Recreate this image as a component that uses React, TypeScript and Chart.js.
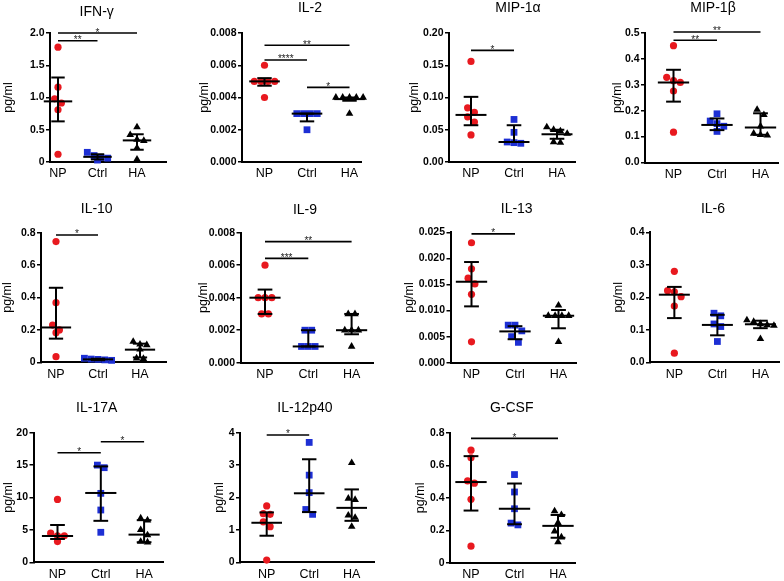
import React, { useEffect, useRef } from "react";
import { Chart, registerables } from "chart.js";
Chart.register(...registerables);

Chart.defaults.font.family = "'Liberation Sans', Arial, sans-serif";
Chart.defaults.color = "#000";

const groups = ["NP", "Ctrl", "HA"];

// IFN-γ
const ifnNP = [1.78, 1.16, 0.98, 0.915, 0.81, 0.12];
const ifnCtrl = [0.15, 0.1, 0.07, 0.06, 0.03];
const ifnHA = [0.54, 0.42, 0.35, 0.33, 0.22, 0.04];
const ifnCenter = [0.94, 0.08, 0.335];
const ifnLow = [0.63, 0.04, 0.19];
const ifnHigh = [1.31, 0.12, 0.43];
const ifnTicks = ["0", "0.5", "1.0", "1.5", "2.0"];
const ifnSig: [number, number, number, string][] = [[0, 2, 2.0, "*"], [0, 1, 1.88, "**"]];

// IL-2
const il2NP = [0.006, 0.005, 0.005, 0.005, 0.005, 0.004];
const il2Ctrl = [0.003, 0.003, 0.003, 0.003, 0.002];
const il2HA = [0.004, 0.004, 0.004, 0.004, 0.004, 0.003];
const il2Center = [0.005, 0.003, 0.0039];
const il2Low = [0.00473, 0.00252, 0.0038];
const il2High = [0.0052, 0.003, 0.004];
const il2Ticks = ["0.000", "0.002", "0.004", "0.006", "0.008"];
const il2Sig: [number, number, number, string][] = [[0, 2, 0.00724, "**"], [0, 1, 0.00633, "****"], [1, 2, 0.00463, "*"]];

// MIP-1α
const mip1aNP = [0.156, 0.084, 0.077, 0.07, 0.062, 0.042];
const mip1aCtrl = [0.066, 0.046, 0.031, 0.03, 0.029];
const mip1aHA = [0.054, 0.05, 0.048, 0.044, 0.031, 0.03];
const mip1aCenter = [0.073, 0.031, 0.043];
const mip1aLow = [0.057, 0.031, 0.036];
const mip1aHigh = [0.101, 0.057, 0.05];
const mip1aTicks = ["0.00", "0.05", "0.10", "0.15", "0.20"];
const mip1aSig: [number, number, number, string][] = [[0, 1, 0.173, "*"]];

// MIP-1β
const mip1bNP = [0.451, 0.329, 0.316, 0.309, 0.276, 0.117];
const mip1bCtrl = [0.188, 0.16, 0.15, 0.14, 0.12];
const mip1bHA = [0.204, 0.184, 0.14, 0.112, 0.107, 0.105];
const mip1bCenter = [0.309, 0.145, 0.135];
const mip1bLow = [0.235, 0.125, 0.107];
const mip1bHigh = [0.358, 0.17, 0.19];
const mip1bTicks = ["0.0", "0.1", "0.2", "0.3", "0.4", "0.5"];
const mip1bSig: [number, number, number, string][] = [[0, 2, 0.504, "**"], [0, 1, 0.472, "**"]];

// IL-10
const il10NP = [0.745, 0.368, 0.23, 0.2, 0.183, 0.035];
const il10Ctrl = [0.025, 0.02, 0.018, 0.015, 0.012];
const il10HA = [0.128, 0.111, 0.107, 0.08, 0.025, 0.022];
const il10Center = [0.215, 0.018, 0.078];
const il10Low = [0.146, 0.013, 0.03];
const il10High = [0.46, 0.022, 0.115];
const il10Ticks = ["0", "0.2", "0.4", "0.6", "0.8"];
const il10Sig: [number, number, number, string][] = [[0, 1, 0.786, "*"]];

// IL-9
const il9NP = [0.006, 0.004, 0.004, 0.004, 0.003, 0.003];
const il9Ctrl = [0.002, 0.002, 0.001, 0.001, 0.001];
const il9HA = [0.003, 0.003, 0.002, 0.002, 0.002, 0.001];
const il9Center = [0.004, 0.001, 0.002];
const il9Low = [0.003, 0.001, 0.00175];
const il9High = [0.0045, 0.002, 0.003];
const il9Ticks = ["0.000", "0.002", "0.004", "0.006", "0.008"];
const il9Sig: [number, number, number, string][] = [[0, 2, 0.00745, "**"], [0, 1, 0.00642, "***"]];

// IL-13
const il13NP = [0.023, 0.018, 0.0162, 0.0151, 0.0131, 0.004];
const il13Ctrl = [0.0072, 0.0072, 0.0061, 0.005, 0.0039];
const il13HA = [0.011, 0.009, 0.009, 0.009, 0.009, 0.004];
const il13Center = [0.0155, 0.006, 0.009];
const il13Low = [0.0108, 0.0045, 0.0066];
const il13High = [0.0193, 0.007, 0.0101];
const il13Ticks = ["0.000", "0.005", "0.010", "0.015", "0.020", "0.025"];
const il13Sig: [number, number, number, string][] = [[0, 1, 0.0247, "*"]];

// IL-6
const il6NP = [0.28, 0.2205, 0.217, 0.202, 0.173, 0.028];
const il6Ctrl = [0.151, 0.143, 0.118, 0.11, 0.064];
const il6HA = [0.13, 0.125, 0.118, 0.115, 0.113, 0.072];
const il6Center = [0.208, 0.115, 0.117];
const il6Low = [0.136, 0.083, 0.105];
const il6High = [0.232, 0.146, 0.128];
const il6Ticks = ["0.0", "0.1", "0.2", "0.3", "0.4"];
const il6Sig: [number, number, number, string][] = [];

// IL-17A
const il17NP = [9.7, 4.5, 4.1, 4.1, 3.2];
const il17Ctrl = [15.0, 14.6, 10.64, 8.07, 4.63];
const il17HA = [6.8, 6.5, 5.0, 4.2, 3.2, 3.1];
const il17Center = [4.06, 10.7, 4.27];
const il17Low = [3.6, 6.4, 3.1];
const il17High = [5.76, 14.8, 6.5];
const il17Ticks = ["0", "5", "10", "15", "20"];
const il17Sig: [number, number, number, string][] = [[0, 1, 16.9, "*"], [1, 2, 18.6, "*"]];

// IL-12p40
const il12NP = [1.74, 1.5, 1.48, 1.25, 1.1, 0.07];
const il12Ctrl = [3.7, 2.69, 2.15, 1.63, 1.48];
const il12HA = [3.07, 1.97, 1.93, 1.45, 1.38, 1.1];
const il12Center = [1.22, 2.13, 1.68];
const il12Low = [0.82, 1.55, 1.28];
const il12High = [1.54, 3.18, 2.25];
const il12Ticks = ["0", "1", "2", "3", "4"];
const il12Sig: [number, number, number, string][] = [[0, 1, 3.93, "*"]];

// G-CSF
const gcsfNP = [0.693, 0.646, 0.504, 0.49, 0.391, 0.103];
const gcsfCtrl = [0.543, 0.436, 0.333, 0.245, 0.234];
const gcsfHA = [0.319, 0.296, 0.247, 0.195, 0.158, 0.128];
const gcsfCenter = [0.497, 0.333, 0.228];
const gcsfLow = [0.322, 0.238, 0.155];
const gcsfHigh = [0.656, 0.488, 0.295];
const gcsfTicks = ["0", "0.2", "0.4", "0.6", "0.8"];
const gcsfSig: [number, number, number, string][] = [[0, 2, 0.765, "*"]];

const panels = [
  { title: "IFN-γ", pts: [ifnNP, ifnCtrl, ifnHA], center: ifnCenter, low: ifnLow, high: ifnHigh, ticks: ifnTicks, sig: ifnSig },
  { title: "IL-2", pts: [il2NP, il2Ctrl, il2HA], center: il2Center, low: il2Low, high: il2High, ticks: il2Ticks, sig: il2Sig },
  { title: "MIP-1α", pts: [mip1aNP, mip1aCtrl, mip1aHA], center: mip1aCenter, low: mip1aLow, high: mip1aHigh, ticks: mip1aTicks, sig: mip1aSig },
  { title: "MIP-1β", pts: [mip1bNP, mip1bCtrl, mip1bHA], center: mip1bCenter, low: mip1bLow, high: mip1bHigh, ticks: mip1bTicks, sig: mip1bSig },
  { title: "IL-10", pts: [il10NP, il10Ctrl, il10HA], center: il10Center, low: il10Low, high: il10High, ticks: il10Ticks, sig: il10Sig },
  { title: "IL-9", pts: [il9NP, il9Ctrl, il9HA], center: il9Center, low: il9Low, high: il9High, ticks: il9Ticks, sig: il9Sig },
  { title: "IL-13", pts: [il13NP, il13Ctrl, il13HA], center: il13Center, low: il13Low, high: il13High, ticks: il13Ticks, sig: il13Sig },
  { title: "IL-6", pts: [il6NP, il6Ctrl, il6HA], center: il6Center, low: il6Low, high: il6High, ticks: il6Ticks, sig: il6Sig },
  { title: "IL-17A", pts: [il17NP, il17Ctrl, il17HA], center: il17Center, low: il17Low, high: il17High, ticks: il17Ticks, sig: il17Sig },
  { title: "IL-12p40", pts: [il12NP, il12Ctrl, il12HA], center: il12Center, low: il12Low, high: il12High, ticks: il12Ticks, sig: il12Sig },
  { title: "G-CSF", pts: [gcsfNP, gcsfCtrl, gcsfHA], center: gcsfCenter, low: gcsfLow, high: gcsfHigh, ticks: gcsfTicks, sig: gcsfSig },
];

// Layout (page pixels)
const colX = [0, 195, 390, 585];
const colW = [195, 195, 195, 199];
const rowY = [0, 188, 383];
const rowH = [188, 195, 198];
const XH = 20;
const layouts = [
  { col: 0, row: 0, axisX: 50, top: 33, bottom: 162, xEnd: 166, p0: 58, s: 39.5, titleX: 96.7, titleY: 12.5, yTitleX: 8.5 },
  { col: 1, row: 0, axisX: 242, top: 33, bottom: 162, xEnd: 361, p0: 264.5, s: 42.5, titleX: 310, titleY: 8.5, yTitleX: 205 },
  { col: 2, row: 0, axisX: 449, top: 33, bottom: 162, xEnd: 575, p0: 471, s: 43, titleX: 518, titleY: 8.5, yTitleX: 415 },
  { col: 3, row: 0, axisX: 645, top: 33, bottom: 162.5, xEnd: 778, p0: 673.5, s: 43.5, titleX: 713, titleY: 8.5, yTitleX: 618 },
  { col: 0, row: 1, axisX: 41, top: 232.7, bottom: 362.3, xEnd: 166, p0: 56, s: 42, titleX: 96.7, titleY: 209, yTitleX: 7.5 },
  { col: 1, row: 1, axisX: 240.5, top: 232.7, bottom: 362.7, xEnd: 373, p0: 265, s: 43.3, titleX: 305, titleY: 210, yTitleX: 203.3 },
  { col: 2, row: 1, axisX: 450.5, top: 232.3, bottom: 362.7, xEnd: 576, p0: 471.5, s: 43.5, titleX: 516.7, titleY: 209, yTitleX: 409.5 },
  { col: 3, row: 1, axisX: 650, top: 232.3, bottom: 362.3, xEnd: 780, p0: 674.5, s: 43.3, titleX: 713, titleY: 209, yTitleX: 618.5 },
  { col: 0, row: 2, axisX: 33.5, top: 432.7, bottom: 562.3, xEnd: 163, p0: 57.5, s: 43.3, titleX: 96.7, titleY: 408.5, yTitleX: 8.5 },
  { col: 1, row: 2, axisX: 240, top: 432.7, bottom: 562.3, xEnd: 374, p0: 266.7, s: 42.5, titleX: 305, titleY: 408.5, yTitleX: 220 },
  { col: 2, row: 2, axisX: 450, top: 432.7, bottom: 563, xEnd: 575, p0: 471, s: 43.5, titleX: 511.7, titleY: 408.5, yTitleX: 420.5 },
];

const colors = ["#e8191f", "#1d2fd4", "#000000"];
const shapes = ["circle", "rect", "triangle"];
const radii = [3.6, 4.8, 4.4];
const MARK = 6.8;
const FONT = "'Liberation Sans', Arial, sans-serif";

function swarm(vals: number[], pxPerUnit: number, d: number): number[] {
  const idx = vals.map((_, i) => i).sort((a, b) => vals[b] - vals[a]);
  const out = new Array(vals.length).fill(0);
  let row: number[] = [];
  let start = 0;
  const flush = () => row.forEach((k, j) => (out[k] = (j - (row.length - 1) / 2) * d));
  idx.forEach((k) => {
    if (row.length && (start - vals[k]) * pxPerUnit < d) row.push(k);
    else {
      flush();
      row = [k];
      start = vals[k];
    }
  });
  flush();
  return out;
}

function Panel({ p, L }: { p: any; L: any }) {
  const ref = useRef<HTMLCanvasElement>(null);
  const bx = colX[L.col], by = rowY[L.row], bw = colW[L.col], bh = rowH[L.row];
  useEffect(() => {
    const yMax = Number(p.ticks[p.ticks.length - 1]);
    const pxPerUnit = (L.bottom - L.top) / yMax;
    const xmin = -(L.p0 - L.axisX) / L.s;
    const xmax = (L.xEnd - L.p0) / L.s;
    const datasets = p.pts.map((vals: number[], g: number) => {
      const off = swarm(vals, pxPerUnit, MARK);
      return {
        label: groups[g],
        data: vals.map((v, i) => ({ x: g + off[i] / L.s, y: v })),
        pointStyle: shapes[g],
        pointRadius: radii[g],
        pointBackgroundColor: colors[g],
        pointBorderColor: colors[g],
        pointBorderWidth: 0,
        showLine: false,
        clip: false,
      };
    });
    const deco = {
      id: "deco",
      afterDatasetsDraw(chart: any) {
        const { ctx } = chart;
        const xs = chart.scales.x, ys = chart.scales.y;
        const sp = xs.getPixelForValue(1) - xs.getPixelForValue(0);
        ctx.save();
        ctx.strokeStyle = "#000";
        ctx.lineWidth = 2;
        const line = (x1: number, y1: number, x2: number, y2: number) => {
          ctx.beginPath();
          ctx.moveTo(x1, y1);
          ctx.lineTo(x2, y2);
          ctx.stroke();
        };
        for (let g = 0; g < 3; g++) {
          const cx = xs.getPixelForValue(g);
          const yc = ys.getPixelForValue(p.center[g]);
          const yl = ys.getPixelForValue(p.low[g]);
          const yh = ys.getPixelForValue(p.high[g]);
          line(cx - 0.36 * sp, yc, cx + 0.36 * sp, yc);
          line(cx, yl, cx, yh);
          line(cx - 0.17 * sp, yl, cx + 0.17 * sp, yl);
          line(cx - 0.17 * sp, yh, cx + 0.17 * sp, yh);
        }
        ctx.restore();
      },
      afterDraw(chart: any) {
        const { ctx, chartArea } = chart;
        const xs = chart.scales.x, ys = chart.scales.y;
        ctx.save();
        ctx.strokeStyle = "#000";
        ctx.lineWidth = 1.6;
        ctx.fillStyle = "#222";
        ctx.font = `10px ${FONT}`;
        ctx.textAlign = "center";
        ctx.textBaseline = "alphabetic";
        p.sig.forEach(([a, b, v, t]: [number, number, number, string]) => {
          const x1 = xs.getPixelForValue(a), x2 = xs.getPixelForValue(b);
          const y = ys.getPixelForValue(v);
          ctx.beginPath();
          ctx.moveTo(x1, y);
          ctx.lineTo(x2, y);
          ctx.stroke();
          ctx.fillText(t, (x1 + x2) / 2, y + 2.5);
        });
        ctx.fillStyle = "#000";
        ctx.textBaseline = "middle";
        ctx.font = `12.5px ${FONT}`;
        groups.forEach((gname, g) => {
          ctx.fillText(gname, xs.getPixelForValue(g), chartArea.bottom + 12);
        });
        ctx.font = `14px ${FONT}`;
        ctx.fillText(p.title, L.titleX - bx, L.titleY - by);
        ctx.translate(L.yTitleX - bx, (L.top + L.bottom) / 2 - by);
        ctx.rotate(-Math.PI / 2);
        ctx.font = `12.5px ${FONT}`;
        ctx.fillText("pg/ml", 0, 0);
        ctx.restore();
      },
    };
    const chart = new Chart(ref.current as HTMLCanvasElement, {
      type: "scatter",
      data: { datasets },
      options: {
        responsive: false,
        animation: false,
        events: [],
        layout: {
          padding: {
            left: 0,
            top: L.top - by,
            right: bx + bw - L.xEnd,
            bottom: by + bh - L.bottom - XH,
          },
        },
        plugins: { legend: { display: false }, tooltip: { enabled: false }, title: { display: false } },
        scales: {
          x: {
            type: "linear",
            min: xmin,
            max: xmax,
            afterBuildTicks: (s: any) => {
              s.ticks = [0, 1, 2].map((v) => ({ value: v }));
            },
            afterFit: (s: any) => {
              s.height = XH;
            },
            ticks: { display: false },
            grid: { display: false },
            border: { display: true, color: "#000", width: 2 },
          },
          y: {
            type: "linear",
            min: 0,
            max: yMax,
            afterBuildTicks: (s: any) => {
              s.ticks = p.ticks.map((t: string) => ({ value: Number(t) }));
            },
            afterFit: (s: any) => {
              s.width = L.axisX - bx;
            },
            ticks: {
              callback: (_v: any, i: number) => p.ticks[i],
              font: { size: 10.5, weight: "bold" },
              color: "#000",
              padding: 1.5,
              autoSkip: false,
            },
            grid: { display: true, drawOnChartArea: false, drawTicks: true, tickLength: 4, color: "#000", lineWidth: 1.5 },
            border: { display: true, color: "#000", width: 2 },
          },
        },
      } as any,
      plugins: [deco],
    } as any);
    return () => chart.destroy();
  }, []);
  return (
    <canvas
      ref={ref}
      width={bw}
      height={bh}
      style={{ position: "absolute", left: bx, top: by, width: bw, height: bh }}
    />
  );
}

export default function App() {
  return (
    <div style={{ position: "absolute", left: 0, top: 0, width: 784, height: 581, background: "#fff" }}>
      {panels.map((p, i) => (
        <Panel key={i} p={p} L={layouts[i]} />
      ))}
    </div>
  );
}
